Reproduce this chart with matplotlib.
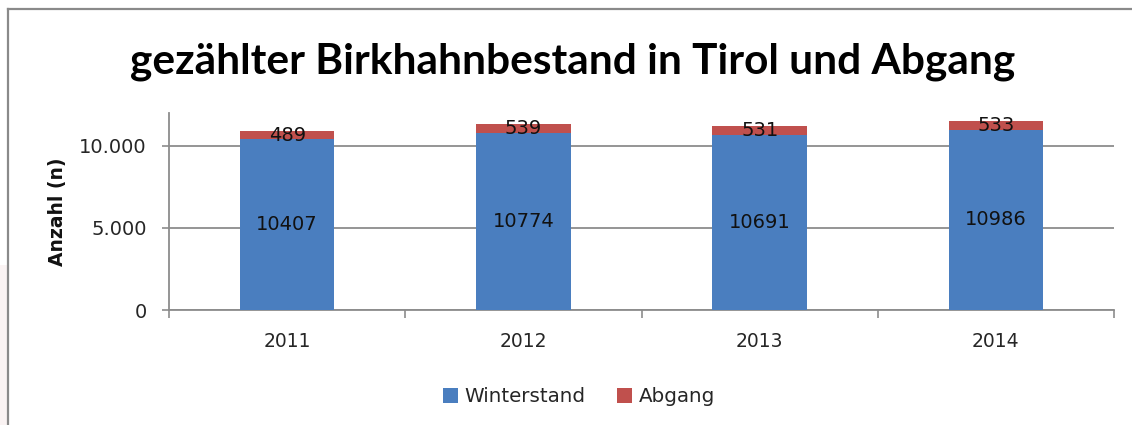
import matplotlib
matplotlib.use("Agg")
import matplotlib.pyplot as plt
from matplotlib.lines import Line2D
from matplotlib.patches import Rectangle, Patch
import numpy as np

years = ["2011", "2012", "2013", "2014"]
winterstand = [10407, 10774, 10691, 10986]
abgang = [489, 539, 531, 533]
title = "gezählter Birkhahnbestand in Tirol und Abgang"
ylabel = "Anzahl (n)"
yticks = [0, 5000, 10000]
ytick_labels = ["0", "5.000", "10.000"]

c_blue = "#4A7EBF"
c_red = "#C0504D"
grid_c = "#8C8C8C"
text_c = "#262626"

W, H = 1132, 425
fig = plt.figure(figsize=(W / 100, H / 100), dpi=100)
fig.patch.set_facecolor("white")

# faint background strip at the left outside the frame
fig.patches.append(Rectangle((0, 0), 7 / W, 160 / H, transform=fig.transFigure,
                             facecolor="#FAF3F3", edgecolor="none", zorder=0))
# chart frame (left and top edges visible)
fig.lines.append(Line2D([8 / W, 8 / W], [0, 1 - 9 / H], transform=fig.transFigure,
                        color="#8A8A8A", lw=1.6))
fig.lines.append(Line2D([8 / W, 1], [1 - 9 / H, 1 - 9 / H], transform=fig.transFigure,
                        color="#8A8A8A", lw=1.6))

ax = fig.add_axes([169 / W, 1 - 310 / H, (1114 - 169) / W, (310 - 113.2) / H])
x = np.arange(len(years))
bw = 0.40
b1 = ax.bar(x, winterstand, bw, color=c_blue, zorder=3, label="Winterstand")
b2 = ax.bar(x, abgang, bw, bottom=winterstand, color=c_red, zorder=3, label="Abgang")

for xi, w, a in zip(x, winterstand, abgang):
    ax.text(xi, w / 2, str(w), ha="center", va="center", fontsize=14,
            color="#111111", zorder=5)
    ax.text(xi, w + a / 2, str(a), ha="center", va="center", fontsize=14,
            color="#111111", zorder=5)

ax.set_xlim(-0.5, len(years) - 0.5)
ax.set_ylim(0, 12000)
ax.set_yticks(yticks)
ax.set_yticklabels(ytick_labels)
ax.set_xticks(x)
ax.set_xticklabels(years)
ax.set_xticks(np.arange(-0.5, len(years)), minor=True)
ax.tick_params(axis="x", which="major", length=0, pad=16, labelsize=13.5, labelcolor=text_c)
ax.tick_params(axis="x", which="minor", length=5.5, width=1.2, color=grid_c, direction="out")
ax.tick_params(axis="y", length=5, width=1.2, color=grid_c, pad=11, labelsize=14, labelcolor=text_c)

ax.yaxis.grid(True, color=grid_c, lw=1.3, zorder=1)
ax.set_axisbelow(True)
for s in ["top", "right"]:
    ax.spines[s].set_visible(False)
for s in ["left", "bottom"]:
    ax.spines[s].set_color(grid_c)
    ax.spines[s].set_linewidth(1.3)

fig.text(57 / W, 1 - 212 / H, ylabel, rotation=90, ha="center", va="center",
         fontsize=13.5, fontweight="bold", color="#111111")

fig.text(573 / W, 1 - 62 / H, title, ha="center", va="center",
         fontsize=30.5, fontweight="bold", family="Lato", color="black")

handles = [Patch(facecolor=c_blue, edgecolor="none"), Patch(facecolor=c_red, edgecolor="none")]
fig.legend(handles, ["Winterstand", "Abgang"], loc="center", bbox_to_anchor=(579 / W, 1 - 397 / H),
           ncol=2, frameon=False, fontsize=14.3, handlelength=0.75, handleheight=0.75,
           handletextpad=0.35, columnspacing=1.6, labelcolor=text_c)

fig.savefig("out.png", dpi=100, facecolor="white")
